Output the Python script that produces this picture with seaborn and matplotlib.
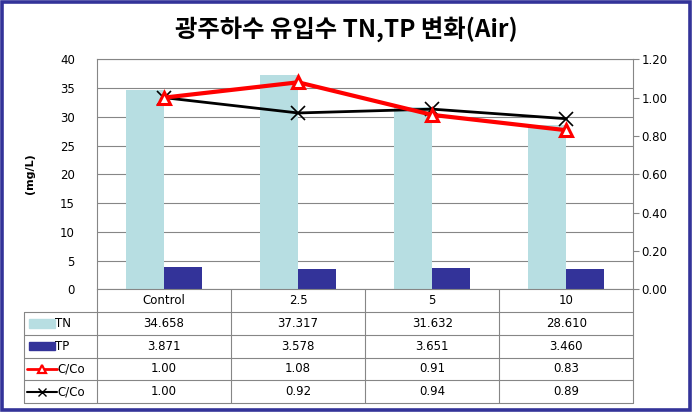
import numpy as np
import pandas as pd
import seaborn as sns
import matplotlib.pyplot as plt
from matplotlib.patches import Rectangle
from matplotlib.lines import Line2D

categories = ["Control", "2.5", "5", "10"]
tn_values = [34.658, 37.317, 31.632, 28.610]
tp_values = [3.871, 3.578, 3.651, 3.460]
ratio_red = [1.00, 1.08, 0.91, 0.83]
ratio_black = [1.00, 0.92, 0.94, 0.89]
left_ticks = [0, 5, 10, 15, 20, 25, 30, 35, 40]
right_ticks = [0.0, 0.2, 0.4, 0.6, 0.8, 1.0, 1.2]

TN_COLOR = "#B7DEE2"
TP_COLOR = "#333399"
GRID = "#868686"
W, H = 693, 413


def fx(px):
    return px / W


def fy(py):
    return 1 - py / H


def main():
    sns.set_style("white")
    plt.rcParams["font.family"] = ["DejaVu Sans", "Noto Sans CJK KR"]
    plt.rcParams["font.size"] = 8.5
    plt.rcParams["text.color"] = "black"
    plt.rcParams["ytick.labelcolor"] = "black"

    fig = plt.figure(figsize=(W / 100, H / 100), dpi=100)

    # outer frame
    fig.patches.append(Rectangle((fx(2), fy(410)), fx(688), 408 / H, transform=fig.transFigure,
                                 fill=False, edgecolor=TP_COLOR, linewidth=2.6))

    fig.text(0.5, fy(29), "광주하수 유입수 TN,TP 변화(Air)", ha="center", va="center",
             fontsize=17.5, fontweight="bold", color="black",
             family=["Noto Sans CJK KR", "DejaVu Sans"])

    x0, x1, y_top, y_zero = 97, 633.3, 59.3, 289.3
    ax = fig.add_axes([fx(x0), fy(y_zero), fx(x1 - x0), (y_zero - y_top) / H])

    df = pd.DataFrame({
        "cat": categories * 2,
        "series": ["TN"] * 4 + ["TP"] * 4,
        "value": tn_values + tp_values,
    })
    sns.barplot(data=df, x="cat", y="value", hue="series", palette=[TN_COLOR, TP_COLOR],
                width=0.567, saturation=1, legend=False, linewidth=0, ax=ax, zorder=2)
    ax.set_ylim(0, 40)
    ax.set_yticks(left_ticks)
    ax.yaxis.grid(True, color=GRID, linewidth=0.8, zorder=0)
    ax.set_axisbelow(True)
    ax.tick_params(axis="y", length=0, pad=16, labelcolor="black")
    ax.tick_params(axis="x", length=0, labelbottom=False)
    ax.set_xlabel("")
    ax.set_ylabel("")
    for s in ["left", "bottom", "top"]:
        ax.spines[s].set_color(GRID)
        ax.spines[s].set_linewidth(0.8)
    ax.spines["right"].set_visible(False)
    fig.text(fx(30), fy(174), "(mg/L)", rotation=90, ha="center", va="center",
             fontsize=8, fontweight="bold")

    ax2 = ax.twinx()
    pos = np.arange(len(categories))
    sns.lineplot(x=pos, y=ratio_black, ax=ax2, color="black", linewidth=2, marker="x",
                 markersize=10, markeredgewidth=1.2, markeredgecolor="black", sort=False)
    sns.lineplot(x=pos, y=ratio_red, ax=ax2, color="red", linewidth=3, marker="^",
                 markersize=9, markerfacecolor="white", markeredgecolor="red",
                 markeredgewidth=2.2, sort=False)
    ax2.set_ylim(0, 1.2)
    ax2.set_yticks(right_ticks)
    ax2.set_yticklabels([f"{v:.2f}" for v in right_ticks])
    ax2.tick_params(axis="y", length=4, color=GRID, width=0.8, pad=2, labelcolor="black")
    ax2.set_ylabel("")
    for s in ["left", "bottom", "top"]:
        ax2.spines[s].set_visible(False)
    ax2.spines["right"].set_color(GRID)
    ax2.spines["right"].set_linewidth(0.8)
    ax.set_xlim(-0.5, 3.5)
    ax2.set_xlim(-0.5, 3.5)

    # data table under the plot
    tl, tb = 24.3, 403
    tax = fig.add_axes([fx(tl), fy(tb), fx(x1 - tl), (tb - y_zero) / H])
    unit = 4 / (x1 - x0)
    xl = -0.5 - (x0 - tl) * unit
    tax.set_xlim(xl, 3.5)
    tax.set_ylim(5, 0)
    tax.axis("off")

    def line(xs, ys):
        tax.add_line(Line2D(xs, ys, color=GRID, linewidth=0.8, clip_on=False))

    for r in range(1, 6):
        line([xl, 3.5], [r, r])
    line([xl, xl], [1, 5])
    for c in [-0.5, 0.5, 1.5, 2.5, 3.5]:
        line([c, c], [0, 5])

    rows = [
        [f"{v:.3f}" for v in tn_values],
        [f"{v:.3f}" for v in tp_values],
        [f"{v:.2f}" for v in ratio_red],
        [f"{v:.2f}" for v in ratio_black],
    ]
    for i, c in enumerate(categories):
        tax.text(i, 0.5, c, ha="center", va="center")
        for r, row in enumerate(rows):
            tax.text(i, r + 1.5, row[i], ha="center", va="center")

    def px2x(px):
        return -0.5 + (px - x0) * unit

    kx0, kx1 = px2x(29), px2x(55)
    tax.add_patch(Rectangle((kx0, 1.32), kx1 - kx0, 0.36, color=TN_COLOR, clip_on=False))
    tax.add_patch(Rectangle((kx0, 2.32), kx1 - kx0, 0.36, color=TP_COLOR, clip_on=False))
    tax.text(kx1, 1.5, "TN", ha="left", va="center")
    tax.text(kx1, 2.5, "TP", ha="left", va="center")
    lx0, lx1 = px2x(27), px2x(57)
    tax.add_line(Line2D([lx0, lx1], [3.5, 3.5], color="red", linewidth=2, clip_on=False))
    tax.add_line(Line2D([(lx0 + lx1) / 2], [3.5], marker="^", markersize=6, color="red",
                        markerfacecolor="white", markeredgewidth=1.6, clip_on=False))
    tax.add_line(Line2D([lx0, lx1], [4.5, 4.5], color="black", linewidth=1.5, clip_on=False))
    tax.add_line(Line2D([(lx0 + lx1) / 2], [4.5], marker="x", markersize=6, color="black",
                        markeredgewidth=1, clip_on=False))
    tax.text(lx1, 3.5, "C/Co", ha="left", va="center")
    tax.text(lx1, 4.5, "C/Co", ha="left", va="center")

    fig.savefig("out.png", dpi=100)
    plt.close(fig)


if __name__ == "__main__":
    main()
